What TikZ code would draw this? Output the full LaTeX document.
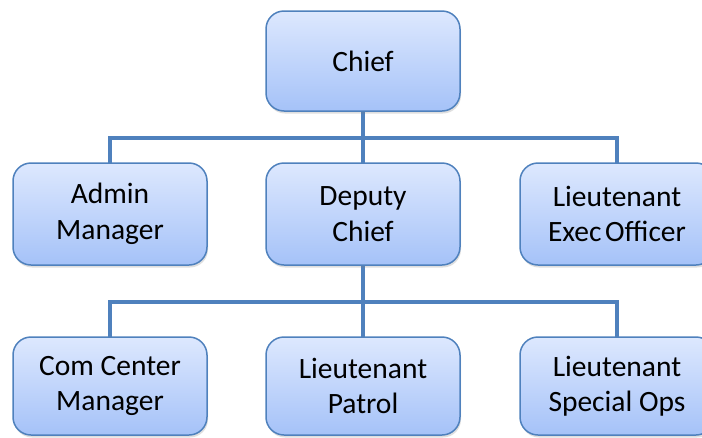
\documentclass[tikz,border=0pt]{standalone}
\usepackage{fontspec}
\setmainfont{Carlito}
\usetikzlibrary{shadows}
\definecolor{edgeblue}{HTML}{4F81BD}
\definecolor{topc}{HTML}{DDE8FE}
\definecolor{botc}{HTML}{A5C2F8}
\begin{document}
\begin{tikzpicture}[x=1pt,y=-1pt,
  orgbox/.style={draw=edgeblue, line width=1.5pt, rounded corners=18pt,
    top color=topc, bottom color=botc, minimum width=194pt, inner sep=0pt,
    align=center, font=\fontsize{29.5}{35.5}\selectfont,
    drop shadow={opacity=0.25, shadow xshift=1pt, shadow yshift=-2.5pt}},
  conn/.style={draw=edgeblue, line width=3.5pt}]
\useasboundingbox (0,0) rectangle (702,437);
\coordinate (bus1) at (363,138);
\coordinate (bus2) at (363,302);
\draw[conn] (363,110) -- (363,163);
\draw[conn] (110,163) |- (bus1) -| (617,163);
\draw[conn] (363,265) -- (363,337);
\draw[conn] (110,337) |- (bus2) -| (617,337);
\node[orgbox, minimum height=100pt] (chief) at (363,61) {Chief};
\node[orgbox, minimum height=102pt] (admin) at (110,214) {Admin\\Manager};
\node[orgbox, minimum height=102pt] (deputy) at (363,214) {Deputy\\Chief};
\node[orgbox, minimum height=102pt] (exec) at (617,214) {Lieutenant\\Exec\hspace{0.12em}Officer};
\node[orgbox, minimum height=98pt] (com) at (110,386) {Com Center\\Manager};
\node[orgbox, minimum height=98pt] (patrol) at (363,386) {Lieutenant\\Patrol};
\node[orgbox, minimum height=98pt] (spec) at (617,386) {Lieutenant\\Special Ops};
\end{tikzpicture}
\end{document}
